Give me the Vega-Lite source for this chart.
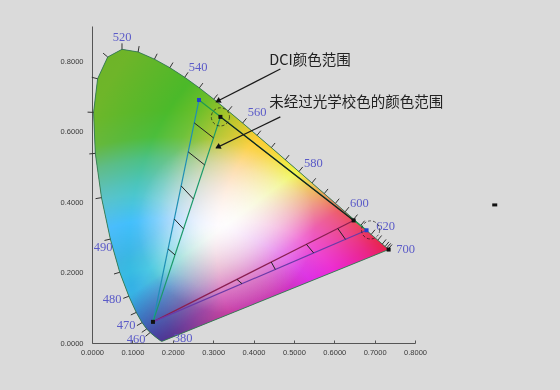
{
 "$schema": "https://vega.github.io/schema/vega-lite/v6.json",
 "width": 323,
 "height": 317,
 "autosize": {"type": "none"},
 "padding": {"left": 92, "top": 26, "right": 145, "bottom": 47},
 "background": "#dadada",
 "config": {
  "view": {"stroke": null},
  "axis": {"labelFont": "Liberation Sans", "labelFontSize": 7.5, "labelColor": "#3a3a3a", "domainColor": "#555555", "tickColor": "#555555", "grid": false, "title": null}
 },
 "datasets": {
  "locus": [
   {"wl": 380, "x": 0.1741, "y": 0.0050}, {"wl": 420, "x": 0.1714, "y": 0.0051}, {"wl": 440, "x": 0.1644, "y": 0.0109},
   {"wl": 450, "x": 0.1566, "y": 0.0177}, {"wl": 460, "x": 0.1440, "y": 0.0297}, {"wl": 465, "x": 0.1355, "y": 0.0399},
   {"wl": 470, "x": 0.1241, "y": 0.0578}, {"wl": 475, "x": 0.1096, "y": 0.0868}, {"wl": 480, "x": 0.0913, "y": 0.1327},
   {"wl": 485, "x": 0.0687, "y": 0.2007}, {"wl": 490, "x": 0.0454, "y": 0.2950}, {"wl": 495, "x": 0.0235, "y": 0.4127},
   {"wl": 500, "x": 0.0082, "y": 0.5384}, {"wl": 505, "x": 0.0039, "y": 0.6548}, {"wl": 510, "x": 0.0139, "y": 0.7502},
   {"wl": 515, "x": 0.0389, "y": 0.8120}, {"wl": 520, "x": 0.0743, "y": 0.8338}, {"wl": 525, "x": 0.1142, "y": 0.8262},
   {"wl": 530, "x": 0.1547, "y": 0.8059}, {"wl": 535, "x": 0.1929, "y": 0.7816}, {"wl": 540, "x": 0.2296, "y": 0.7543},
   {"wl": 545, "x": 0.2658, "y": 0.7243}, {"wl": 550, "x": 0.3016, "y": 0.6923}, {"wl": 555, "x": 0.3373, "y": 0.6589},
   {"wl": 560, "x": 0.3731, "y": 0.6245}, {"wl": 565, "x": 0.4087, "y": 0.5896}, {"wl": 570, "x": 0.4441, "y": 0.5547},
   {"wl": 575, "x": 0.4788, "y": 0.5202}, {"wl": 580, "x": 0.5125, "y": 0.4866}, {"wl": 585, "x": 0.5448, "y": 0.4544},
   {"wl": 590, "x": 0.5752, "y": 0.4242}, {"wl": 595, "x": 0.6029, "y": 0.3965}, {"wl": 600, "x": 0.6270, "y": 0.3725},
   {"wl": 605, "x": 0.6482, "y": 0.3514}, {"wl": 610, "x": 0.6658, "y": 0.3340}, {"wl": 615, "x": 0.6801, "y": 0.3197},
   {"wl": 620, "x": 0.6915, "y": 0.3083}, {"wl": 630, "x": 0.7079, "y": 0.2920}, {"wl": 640, "x": 0.7190, "y": 0.2809},
   {"wl": 650, "x": 0.7260, "y": 0.2740}, {"wl": 660, "x": 0.7300, "y": 0.2700}, {"wl": 680, "x": 0.7334, "y": 0.2666},
   {"wl": 700, "x": 0.7347, "y": 0.2653}
  ],
  "ticks": [
   {"wl": 460, "x": 0.1440, "y": 0.0297, "x2": 0.1326, "y2": 0.0189},
   {"wl": 465, "x": 0.1355, "y": 0.0399, "x2": 0.1233, "y2": 0.0302},
   {"wl": 470, "x": 0.1241, "y": 0.0578, "x2": 0.1112, "y2": 0.0493},
   {"wl": 475, "x": 0.1096, "y": 0.0868, "x2": 0.0961, "y2": 0.0796},
   {"wl": 480, "x": 0.0913, "y": 0.1327, "x2": 0.0774, "y2": 0.1267},
   {"wl": 485, "x": 0.0687, "y": 0.2007, "x2": 0.0545, "y2": 0.1959},
   {"wl": 490, "x": 0.0454, "y": 0.2950, "x2": 0.0309, "y2": 0.2911},
   {"wl": 495, "x": 0.0235, "y": 0.4127, "x2": 0.0088, "y2": 0.4098},
   {"wl": 500, "x": 0.0082, "y": 0.5384, "x2": -0.0067, "y2": 0.5368},
   {"wl": 505, "x": 0.0039, "y": 0.6548, "x2": -0.0110, "y2": 0.6554},
   {"wl": 510, "x": 0.0139, "y": 0.7502, "x2": -0.0005, "y2": 0.7544},
   {"wl": 515, "x": 0.0389, "y": 0.8120, "x2": 0.0275, "y2": 0.8229},
   {"wl": 520, "x": 0.0743, "y": 0.8338, "x2": 0.0743, "y2": 0.8508},
   {"wl": 525, "x": 0.1142, "y": 0.8262, "x2": 0.1167, "y2": 0.8430},
   {"wl": 530, "x": 0.1547, "y": 0.8059, "x2": 0.1614, "y2": 0.8212},
   {"wl": 535, "x": 0.1929, "y": 0.7816, "x2": 0.2006, "y2": 0.7963},
   {"wl": 540, "x": 0.2296, "y": 0.7543, "x2": 0.2380, "y2": 0.7685},
   {"wl": 545, "x": 0.2658, "y": 0.7243, "x2": 0.2747, "y2": 0.7379},
   {"wl": 550, "x": 0.3016, "y": 0.6923, "x2": 0.3110, "y2": 0.7055},
   {"wl": 555, "x": 0.3373, "y": 0.6589, "x2": 0.3467, "y2": 0.6721},
   {"wl": 560, "x": 0.3731, "y": 0.6245, "x2": 0.3825, "y2": 0.6377},
   {"wl": 565, "x": 0.4087, "y": 0.5896, "x2": 0.4181, "y2": 0.6028},
   {"wl": 570, "x": 0.4441, "y": 0.5547, "x2": 0.4535, "y2": 0.5679},
   {"wl": 575, "x": 0.4788, "y": 0.5202, "x2": 0.4882, "y2": 0.5334},
   {"wl": 580, "x": 0.5125, "y": 0.4866, "x2": 0.5219, "y2": 0.4998},
   {"wl": 585, "x": 0.5448, "y": 0.4544, "x2": 0.5542, "y2": 0.4676},
   {"wl": 590, "x": 0.5752, "y": 0.4242, "x2": 0.5846, "y2": 0.4374},
   {"wl": 595, "x": 0.6029, "y": 0.3965, "x2": 0.6123, "y2": 0.4097},
   {"wl": 600, "x": 0.6270, "y": 0.3725, "x2": 0.6364, "y2": 0.3857},
   {"wl": 605, "x": 0.6482, "y": 0.3514, "x2": 0.6576, "y2": 0.3646},
   {"wl": 610, "x": 0.6658, "y": 0.3340, "x2": 0.6752, "y2": 0.3472},
   {"wl": 620, "x": 0.6915, "y": 0.3083, "x2": 0.7009, "y2": 0.3215},
   {"wl": 630, "x": 0.7079, "y": 0.2920, "x2": 0.7173, "y2": 0.3052},
   {"wl": 640, "x": 0.7190, "y": 0.2809, "x2": 0.7284, "y2": 0.2941},
   {"wl": 650, "x": 0.7260, "y": 0.2740, "x2": 0.7354, "y2": 0.2872},
   {"wl": 660, "x": 0.7300, "y": 0.2700, "x2": 0.7398, "y2": 0.2829},
   {"wl": 680, "x": 0.7334, "y": 0.2666, "x2": 0.7432, "y2": 0.2795}
  ],
  "wllabels": [
   {"label": "520", "x": 0.0744, "y": 0.869}, {"label": "540", "x": 0.263, "y": 0.784},
   {"label": "560", "x": 0.409, "y": 0.656}, {"label": "580", "x": 0.548, "y": 0.511},
   {"label": "600", "x": 0.6625, "y": 0.398}, {"label": "620", "x": 0.727, "y": 0.332},
   {"label": "700", "x": 0.777, "y": 0.267}, {"label": "490", "x": 0.0273, "y": 0.273},
   {"label": "480", "x": 0.0496, "y": 0.125}, {"label": "470", "x": 0.0845, "y": 0.0512},
   {"label": "460", "x": 0.109, "y": 0.0114}, {"label": "380", "x": 0.226, "y": 0.013}
  ],
  "edges": [
   {"edge": "dci_gb", "x": 0.265, "y": 0.690, "x2": 0.151, "y2": 0.060},
   {"edge": "unc_gb", "x": 0.318, "y": 0.642, "x2": 0.151, "y2": 0.060},
   {"edge": "dci_gr", "x": 0.265, "y": 0.690, "x2": 0.680, "y2": 0.320},
   {"edge": "unc_gr", "x": 0.318, "y": 0.642, "x2": 0.648, "y2": 0.348},
   {"edge": "unc_br", "x": 0.151, "y": 0.060, "x2": 0.648, "y2": 0.348},
   {"edge": "dci_br", "x": 0.151, "y": 0.060, "x2": 0.680, "y2": 0.320}
  ],
  "hatches": [
   {"x": 0.2532, "y": 0.625, "x2": 0.3009, "y2": 0.5824},
   {"x": 0.2383, "y": 0.5426, "x2": 0.2789, "y2": 0.5057},
   {"x": 0.2208, "y": 0.446, "x2": 0.2511, "y2": 0.409},
   {"x": 0.2038, "y": 0.352, "x2": 0.2268, "y2": 0.324},
   {"x": 0.1885, "y": 0.267, "x2": 0.2055, "y2": 0.25},
   {"x": 0.359, "y": 0.1805, "x2": 0.3715, "y2": 0.1684},
   {"x": 0.444, "y": 0.2298, "x2": 0.454, "y2": 0.2089},
   {"x": 0.531, "y": 0.2802, "x2": 0.549, "y2": 0.2556},
   {"x": 0.6087, "y": 0.3252, "x2": 0.6278, "y2": 0.2943}
  ],
  "vertices": [
   {"kind": "dci", "x": 0.265, "y": 0.690}, {"kind": "dci", "x": 0.680, "y": 0.320},
   {"kind": "unc", "x": 0.318, "y": 0.642}, {"kind": "unc", "x": 0.648, "y": 0.348},
   {"kind": "unc", "x": 0.151, "y": 0.060}, {"kind": "unc", "x": 0.7347, "y": 0.2653}
  ],
  "circles": [
   {"name": "g", "x": 0.318, "y": 0.642}, {"name": "r", "x": 0.690, "y": 0.321}
  ],
  "arrows": [
   {"x": 0.4665, "y": 0.778, "x2": 0.3077, "y2": 0.6847},
   {"x": 0.4665, "y": 0.642, "x2": 0.3077, "y2": 0.554}
  ],
  "heads": [
   {"x": 0.3115, "y": 0.6868}, {"x": 0.3115, "y": 0.5561}
  ],
  "notes": [
   {"label": "DCI颜色范围", "x": 0.439, "y": 0.7997},
   {"label": "未经过光学校色的颜色范围", "x": 0.439, "y": 0.682}
  ],
  "stray": [{"x": 0.9975, "y": 0.392}]
 },
 "encoding": {
  "x": {"field": "x", "type": "quantitative", "scale": {"domain": [0, 0.8], "nice": false, "zero": false},
        "axis": {"values": [0, 0.1, 0.2, 0.3, 0.4, 0.5, 0.6, 0.7, 0.8], "format": ".4f", "tickSize": -3, "labelPadding": 8, "labelFlush": false}},
  "y": {"field": "y", "type": "quantitative", "scale": {"domain": [0, 0.9], "nice": false, "zero": false},
        "axis": {"values": [0, 0.2, 0.4, 0.6, 0.8], "format": ".4f", "ticks": false, "labelPadding": 9}}
 },
 "layer": [
  {"data": {"name": "locus"},
   "mark": {"type": "line", "interpolate": "linear-closed", "fill": "#000000", "stroke": "transparent"},
   "encoding": {"order": {"field": "wl", "type": "quantitative"}}},
  {"data": {"name": "locus"},
   "mark": {"type": "line", "interpolate": "linear-closed", "stroke": "transparent", "blend": "screen",
    "fill": {"gradient": "radial", "x1": 1, "y1": 0.68, "r1": 0, "x2": 1, "y2": 0.68, "r2": 1.1,
     "stops": [{"offset": 0, "color": "rgb(232,0,0)"}, {"offset": 0.41, "color": "rgb(242,0,0)"}, {"offset": 0.53, "color": "rgb(252,0,0)"},
               {"offset": 0.62, "color": "rgb(190,0,0)"}, {"offset": 0.72, "color": "rgb(110,0,0)"}, {"offset": 0.8, "color": "rgb(75,0,0)"},
               {"offset": 1, "color": "rgb(110,0,0)"}]}},
   "encoding": {"order": {"field": "wl", "type": "quantitative"}}},
  {"data": {"name": "locus"},
   "mark": {"type": "line", "interpolate": "linear-closed", "stroke": "transparent", "blend": "screen",
    "fill": {"gradient": "linear", "x1": 0, "y1": 0, "x2": 0.69, "y2": 0.92,
     "stops": [{"offset": 0, "color": "rgb(0,176,0)"}, {"offset": 0.05, "color": "rgb(0,180,0)"}, {"offset": 0.26, "color": "rgb(0,185,0)"},
               {"offset": 0.435, "color": "rgb(0,200,0)"}, {"offset": 0.548, "color": "rgb(0,210,0)"}, {"offset": 0.652, "color": "rgb(0,245,0)"},
               {"offset": 0.748, "color": "rgb(0,165,0)"}, {"offset": 0.817, "color": "rgb(0,95,0)"}, {"offset": 0.896, "color": "rgb(0,65,0)"},
               {"offset": 0.957, "color": "rgb(0,40,0)"}, {"offset": 1, "color": "rgb(0,30,0)"}]}},
   "encoding": {"order": {"field": "wl", "type": "quantitative"}}},
  {"data": {"name": "locus"},
   "mark": {"type": "line", "interpolate": "linear-closed", "stroke": "transparent", "blend": "screen",
    "fill": {"gradient": "radial", "x1": 0.25, "y1": 1.25, "r1": 0, "x2": 0.25, "y2": 1.25, "r2": 1.3,
     "stops": [{"offset": 0, "color": "rgb(0,0,150)"}, {"offset": 0.19, "color": "rgb(0,0,165)"}, {"offset": 0.24, "color": "rgb(0,0,190)"},
               {"offset": 0.34, "color": "rgb(0,0,230)"}, {"offset": 0.42, "color": "rgb(0,0,225)"}, {"offset": 0.515, "color": "rgb(0,0,252)"},
               {"offset": 0.615, "color": "rgb(0,0,185)"}, {"offset": 0.673, "color": "rgb(0,0,135)"}, {"offset": 0.73, "color": "rgb(0,0,60)"},
               {"offset": 0.8, "color": "rgb(0,0,42)"}, {"offset": 1, "color": "rgb(0,0,40)"}]}},
   "encoding": {"order": {"field": "wl", "type": "quantitative"}}},
  {"data": {"name": "locus"},
   "mark": {"type": "line", "interpolate": "linear-closed", "stroke": "transparent", "blend": "multiply",
    "fill": {"gradient": "radial", "x1": 0.5, "y1": 0.97, "r1": 0, "x2": 0.5, "y2": 0.97, "r2": 0.38,
     "stops": [{"offset": 0, "color": "rgb(190,195,175)"}, {"offset": 0.6, "color": "rgb(222,225,212)"}, {"offset": 1, "color": "#ffffff"}]}},
   "encoding": {"order": {"field": "wl", "type": "quantitative"}}},
  {"data": {"name": "locus"},
   "mark": {"type": "line", "interpolate": "linear-closed", "stroke": "transparent", "blend": "multiply",
    "fill": {"gradient": "radial", "x1": 0.13, "y1": 0.8, "r1": 0, "x2": 0.13, "y2": 0.8, "r2": 0.3,
     "stops": [{"offset": 0, "color": "rgb(175,205,255)"}, {"offset": 0.6, "color": "rgb(215,235,255)"}, {"offset": 1, "color": "#ffffff"}]}},
   "encoding": {"order": {"field": "wl", "type": "quantitative"}}},
  {"data": {"name": "locus"},
   "mark": {"type": "line", "interpolate": "linear-closed", "stroke": "transparent", "blend": "multiply",
    "fill": {"gradient": "radial", "x1": 0.2, "y1": 1.0, "r1": 0, "x2": 0.2, "y2": 1.0, "r2": 0.25,
     "stops": [{"offset": 0, "color": "rgb(255,150,255)"}, {"offset": 1, "color": "#ffffff"}]}},
   "encoding": {"order": {"field": "wl", "type": "quantitative"}}},
  {"data": {"name": "locus"},
   "mark": {"type": "line", "interpolate": "linear-closed", "stroke": "transparent",
    "fill": {"gradient": "radial", "x1": 0.45, "y1": 0.6, "r1": 0, "x2": 0.45, "y2": 0.6, "r2": 0.3,
     "stops": [{"offset": 0, "color": "rgba(255,255,255,0.8)"}, {"offset": 0.45, "color": "rgba(255,255,255,0.45)"}, {"offset": 1, "color": "rgba(255,255,255,0)"}]}},
   "encoding": {"order": {"field": "wl", "type": "quantitative"}}},
  {"data": {"name": "locus"},
   "mark": {"type": "line", "interpolate": "linear-closed", "stroke": "#2e7d4f", "strokeWidth": 1, "strokeOpacity": 0.85},
   "encoding": {"order": {"field": "wl", "type": "quantitative"}}},
  {"data": {"name": "ticks"},
   "mark": {"type": "rule", "color": "#333333", "strokeWidth": 1, "clip": false},
   "encoding": {"x2": {"field": "x2"}, "y2": {"field": "y2"}}},
  {"data": {"name": "wllabels"},
   "mark": {"type": "text", "font": "Liberation Serif", "fontSize": 12.5, "color": "#5b5bc8", "align": "center", "baseline": "middle"},
   "encoding": {"text": {"field": "label"}}},
  {"data": {"name": "edges"},
   "mark": {"type": "rule", "strokeWidth": 1.2},
   "encoding": {"x2": {"field": "x2"}, "y2": {"field": "y2"},
    "stroke": {"field": "edge", "type": "nominal", "legend": null,
     "scale": {"domain": ["dci_gb", "unc_gb", "dci_gr", "unc_gr", "unc_br", "dci_br"],
               "range": ["#1f8fb5", "#1a9a6a", "#1f9a50", "#1a1a1a", "#8a1f50", "#6a3aa8"]}}}},
  {"data": {"name": "hatches"},
   "mark": {"type": "rule", "color": "#222222", "strokeWidth": 1},
   "encoding": {"x2": {"field": "x2"}, "y2": {"field": "y2"}}},
  {"data": {"name": "circles"},
   "mark": {"type": "point", "shape": "circle", "filled": false, "color": "#1a1a1a", "strokeWidth": 1, "strokeDash": [3, 2], "size": 330},
   "encoding": {}},
  {"data": {"name": "vertices"},
   "mark": {"type": "point", "shape": "square", "filled": true, "size": 16, "opacity": 1},
   "encoding": {"fill": {"field": "kind", "type": "nominal", "legend": null,
     "scale": {"domain": ["dci", "unc"], "range": ["#2240cc", "#111111"]}}}},
  {"data": {"name": "arrows"},
   "mark": {"type": "rule", "color": "#1a1a1a", "strokeWidth": 1.2},
   "encoding": {"x2": {"field": "x2"}, "y2": {"field": "y2"}}},
  {"data": {"name": "heads"},
   "mark": {"type": "point", "shape": "triangle-up", "filled": true, "color": "#111111", "size": 40, "angle": 243, "opacity": 1},
   "encoding": {}},
  {"data": {"name": "notes"},
   "mark": {"type": "text", "font": "Noto Sans CJK SC", "fontSize": 14.5, "color": "#222222", "align": "left", "baseline": "middle"},
   "encoding": {"text": {"field": "label"}}},
  {"data": {"name": "stray"},
   "mark": {"type": "point", "shape": "M-1,-0.6L1,-0.6L1,0.6L-1,0.6Z", "filled": true, "color": "#111111", "size": 25, "opacity": 1, "clip": false},
   "encoding": {}}
 ]
}
